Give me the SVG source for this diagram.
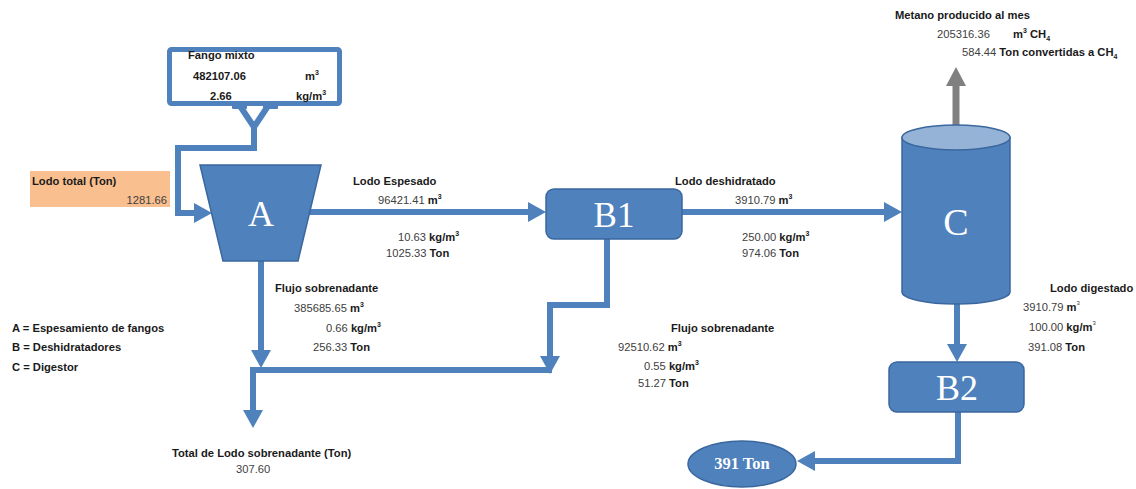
<svg xmlns="http://www.w3.org/2000/svg" width="1136" height="489" viewBox="0 0 1136 489">
  <defs>
    <style>
      .pipe { fill: none; stroke: #4f81bd; stroke-width: 6; stroke-linejoin: miter; }
      .gas { fill: none; stroke: #808080; stroke-width: 7; }
      .unit { fill: #4f81bd; stroke: #3a679e; stroke-width: 1.5; }
      .unit-label { font-family: "Liberation Serif", "Times New Roman", serif; fill: #ffffff; text-anchor: middle; }
      .t { font-family: "Liberation Sans", Arial, sans-serif; font-size: 11.2px; fill: #404040; }
      .b { font-weight: bold; fill: #1a1a1a; }
    </style>
    <marker id="arrow" markerUnits="userSpaceOnUse" viewBox="0 0 18 20" markerWidth="18" markerHeight="20" refX="0" refY="10" orient="auto">
      <path d="M0,0 L18,10 L0,20 Z" fill="#4f81bd"/>
    </marker>
    <marker id="arrow-gas" markerUnits="userSpaceOnUse" viewBox="0 0 19 20" markerWidth="19" markerHeight="20" refX="0" refY="10" orient="auto">
      <path d="M0,0 L19,10 L0,20 Z" fill="#808080"/>
    </marker>
  </defs>

  <rect width="1136" height="489" fill="#ffffff"/>

  <!-- flow lines -->
  <g id="connectors">
    <path class="pipe" d="M240,106 L254,127 L268,106"/>
    <path class="pipe" d="M254,124 V148 H178 V213 H194" marker-end="url(#arrow)"/>
    <path class="pipe" d="M305,212 H528" marker-end="url(#arrow)"/>
    <path class="pipe" d="M682,212 H884" marker-end="url(#arrow)"/>
    <path class="pipe" d="M261,258 V350" marker-end="url(#arrow)"/>
    <path class="pipe" d="M552,370 H253 V410" marker-end="url(#arrow)"/>
    <path class="pipe" d="M607,239 V305 H550 V356" marker-end="url(#arrow)"/>
    <path class="pipe" d="M957,300 V344" marker-end="url(#arrow)"/>
    <path class="pipe" d="M958,412 V461 H815" marker-end="url(#arrow)"/>
    <path class="gas" d="M956,128 V86" marker-end="url(#arrow-gas)"/>
  </g>

  <!-- mixed sludge inlet box -->
  <g id="fango-mixto">
    <rect x="169.5" y="49.5" width="170" height="54" rx="2" fill="#ffffff" stroke="#4f81bd" stroke-width="5"/>
    <rect x="232" y="102" width="15" height="7" rx="1" fill="#4f81bd"/>
    <rect x="263" y="102" width="15" height="7" rx="1" fill="#4f81bd"/>
    <text class="t b" x="188" y="59">Fango mixto</text>
    <text class="t b" x="193" y="80">482107.06</text>
    <text class="t b" x="305" y="80">m<tspan font-size="7" dy="-5">3</tspan></text>
    <text class="t b" x="210" y="100">2.66</text>
    <text class="t b" x="296" y="100">kg/m<tspan font-size="7" dy="-5">3</tspan></text>
  </g>

  <g id="lodo-total">
    <rect x="30" y="171" width="140" height="36" fill="#f9bf8f"/>
    <text class="t b" x="32" y="185">Lodo total (Ton)</text>
    <text class="t" x="167" y="204" text-anchor="end">1281.66</text>
  </g>

  <g id="node-A">
    <polygon class="unit" points="200,165 321,165 298,261 223,261"/>
    <text class="unit-label" x="261" y="226" font-size="36">A</text>
  </g>

  <g id="node-B1">
    <rect class="unit" x="546" y="189" width="136" height="50" rx="8"/>
    <text class="unit-label" x="614" y="227" font-size="35">B1</text>
  </g>

  <g id="node-C">
    <path class="unit" d="M902,137.5 V292 A54,12 0 0 0 1010,292 V137.5 Z"/>
    <ellipse cx="956" cy="137.5" rx="54" ry="12.5" fill="#95b3d7" stroke="#3a679e" stroke-width="1.5"/>
    <text class="unit-label" x="956" y="235" font-size="38">C</text>
  </g>

  <g id="node-B2">
    <rect class="unit" x="889" y="362" width="135" height="50" rx="8"/>
    <text class="unit-label" x="957" y="400" font-size="36">B2</text>
  </g>

  <g id="node-salida">
    <ellipse class="unit" cx="742" cy="464" rx="54" ry="23"/>
    <text class="unit-label" x="742" y="469" font-size="16.5" font-weight="bold">391 Ton</text>
  </g>

  <!-- stream data -->
  <g id="labels">
    <text class="t b" x="353" y="185">Lodo Espesado</text>
    <text class="t" x="378" y="204">96421.41 <tspan class="b">m</tspan><tspan class="b" font-size="7" dy="-5">3</tspan></text>
    <text class="t" x="398" y="241">10.63 <tspan class="b">kg/m</tspan><tspan class="b" font-size="7" dy="-5">3</tspan></text>
    <text class="t" x="386" y="257">1025.33 <tspan class="b">Ton</tspan></text>

    <text class="t b" x="675" y="185">Lodo deshidratado</text>
    <text class="t" x="735" y="204">3910.79 <tspan class="b">m</tspan><tspan class="b" font-size="7" dy="-5">3</tspan></text>
    <text class="t" x="742" y="241">250.00 <tspan class="b">kg/m</tspan><tspan class="b" font-size="7" dy="-5">3</tspan></text>
    <text class="t" x="742" y="257">974.06 <tspan class="b">Ton</tspan></text>

    <text class="t b" x="895" y="19" font-size="9.4">Metano producido al mes</text>
    <text class="t" x="937" y="38">205316.36</text>
    <text class="t b" x="1013" y="38">m<tspan font-size="7" dy="-5">3</tspan><tspan dy="5"> CH</tspan><tspan font-size="7" dy="3">4</tspan></text>
    <text class="t" x="962" y="56">584.44 <tspan class="b">Ton convertidas a CH</tspan><tspan class="b" font-size="7" dy="3">4</tspan></text>

    <text class="t b" x="275" y="292">Flujo sobrenadante</text>
    <text class="t" x="294" y="312">385685.65 <tspan class="b">m</tspan><tspan class="b" font-size="7" dy="-5">3</tspan></text>
    <text class="t" x="326" y="332">0.66 <tspan class="b">kg/m</tspan><tspan class="b" font-size="7" dy="-5">3</tspan></text>
    <text class="t" x="313" y="351">256.33 <tspan class="b">Ton</tspan></text>

    <text class="t b" x="671" y="332">Flujo sobrenadante</text>
    <text class="t" x="618" y="351">92510.62 <tspan class="b">m</tspan><tspan class="b" font-size="7" dy="-5">3</tspan></text>
    <text class="t" x="644" y="370">0.55 <tspan class="b">kg/m</tspan><tspan class="b" font-size="7" dy="-5">3</tspan></text>
    <text class="t" x="638" y="387">51.27 <tspan class="b">Ton</tspan></text>

    <text class="t b" x="1050" y="292">Lodo digestado</text>
    <text class="t" x="1023" y="311">3910.79 <tspan class="b">m</tspan><tspan font-size="6" dy="-6">3</tspan></text>
    <text class="t" x="1029" y="331">100.00 <tspan class="b">kg/m</tspan><tspan font-size="6" dy="-6">3</tspan></text>
    <text class="t" x="1028" y="351">391.08 <tspan class="b">Ton</tspan></text>

    <text class="t b" x="172" y="457">Total de Lodo sobrenadante (Ton)</text>
    <text class="t" x="236" y="473">307.60</text>
  </g>

  <g id="legend">
    <text class="t b" x="12" y="332">A = Espesamiento de fangos</text>
    <text class="t b" x="12" y="351">B = Deshidratadores</text>
    <text class="t b" x="12" y="371">C = Digestor</text>
  </g>
</svg>
